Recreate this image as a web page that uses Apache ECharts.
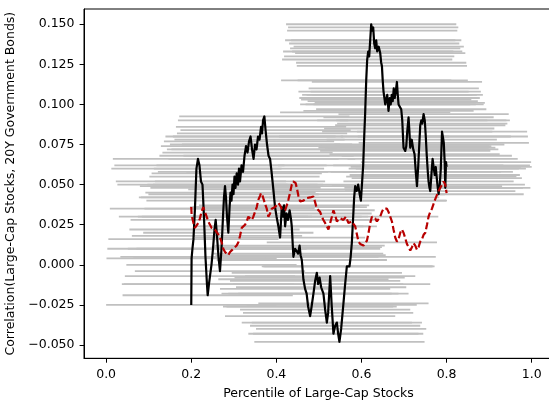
<!DOCTYPE html>
<html>
<head>
<meta charset="utf-8">
<script src="https://cdn.jsdelivr.net/npm/echarts@6/dist/echarts.min.js"></script>
<style>
  html, body { margin: 0; padding: 0; background: #fff; }
  #chart { width: 549px; height: 402px; }
</style>
</head>
<body>
<div id="chart"></div>
<script>
// Local correlation estimated at each percentile of large-cap stocks
const localX = [0.2000,0.2008,0.2028,0.2052,0.2087,0.2122,0.2158,0.2193,0.2228,0.2264,
  0.2299,0.2334,0.2369,0.2386,0.2416,0.2440,0.2475,0.2511,0.2546,0.2574,
  0.2605,0.2640,0.2675,0.2711,0.2746,0.2769,0.2793,0.2816,0.2840,0.2871,
  0.2899,0.2922,0.2946,0.2969,0.2993,0.3016,0.3040,0.3068,0.3099,0.3122,
  0.3146,0.3181,0.3216,0.3252,0.3287,0.3322,0.3358,0.3393,0.3428,0.3464,
  0.3499,0.3534,0.3569,0.3605,0.3640,0.3664,0.3687,0.3718,0.3746,0.3781,
  0.3816,0.3852,0.3887,0.3929,0.3969,0.4005,0.4047,0.4087,0.4127,0.4158,
  0.4181,0.4205,0.4240,0.4275,0.4311,0.4346,0.4362,0.4400,0.4440,0.4480,
  0.4511,0.4546,0.4569,0.4598,0.4635,0.4675,0.4711,0.4746,0.4793,0.4828,
  0.4871,0.4911,0.4951,0.4981,0.5016,0.5052,0.5106,0.5146,0.5186,0.5216,
  0.5264,0.5299,0.5341,0.5381,0.5421,0.5452,0.5482,0.5522,0.5576,0.5616,
  0.5656,0.5687,0.5718,0.5746,0.5774,0.5805,0.5828,0.5852,0.5887,0.5922,
  0.5958,0.5986,0.6009,0.6040,0.6064,0.6087,0.6111,0.6134,0.6158,0.6181,
  0.6205,0.6228,0.6252,0.6275,0.6299,0.6322,0.6346,0.6369,0.6405,0.6440,
  0.6463,0.6480,0.6499,0.6518,0.6539,0.6558,0.6581,0.6605,0.6635,0.6664,
  0.6687,0.6711,0.6734,0.6758,0.6781,0.6805,0.6833,0.6852,0.6871,0.6899,
  0.6934,0.6958,0.6988,0.7005,0.7028,0.7052,0.7075,0.7106,0.7122,0.7146,
  0.7181,0.7216,0.7247,0.7275,0.7304,0.7334,0.7358,0.7381,0.7405,0.7428,
  0.7459,0.7487,0.7511,0.7534,0.7558,0.7576,0.7598,0.7616,0.7640,0.7671,
  0.7699,0.7722,0.7746,0.7769,0.7793,0.7812,0.7840,0.7864,0.7892,0.7911,
  0.7934,0.7958,0.7969,0.7986,0.8000];
const localCorr = [-0.025,0.004,0.010,0.016,0.035,0.060,0.066,0.062,0.052,0.050,
  0.030,0.005,-0.012,-0.019,-0.012,-0.007,0.000,0.010,0.022,0.028,
  0.018,0.005,-0.004,0.010,0.030,0.042,0.049,0.042,0.030,0.020,
  0.035,0.045,0.040,0.050,0.044,0.055,0.048,0.057,0.050,0.060,
  0.052,0.062,0.058,0.068,0.074,0.070,0.077,0.080,0.072,0.066,
  0.075,0.072,0.080,0.078,0.086,0.082,0.090,0.0925,0.084,0.075,
  0.068,0.066,0.058,0.047,0.036,0.030,0.024,0.017,0.036,0.030,
  0.037,0.024,0.032,0.028,0.034,0.028,0.024,0.005,0.010,0.011,
  0.007,0.012,0.006,0.003,-0.009,-0.015,-0.018,-0.026,-0.032,-0.026,
  -0.018,-0.010,-0.005,-0.012,-0.008,-0.014,-0.018,-0.028,-0.036,-0.030,
  -0.007,-0.025,-0.043,-0.038,-0.036,-0.043,-0.048,-0.040,-0.024,-0.012,
  -0.001,-0.001,-0.001,0.005,0.014,0.030,0.042,0.049,0.046,0.050,
  0.044,0.040,0.040,0.062,0.080,0.095,0.115,0.128,0.133,0.130,
  0.140,0.150,0.146,0.148,0.138,0.135,0.140,0.133,0.136,0.132,
  0.126,0.124,0.115,0.108,0.104,0.100,0.103,0.106,0.096,0.104,
  0.100,0.106,0.102,0.110,0.104,0.108,0.114,0.106,0.100,0.101,
  0.097,0.090,0.073,0.074,0.071,0.074,0.083,0.092,0.085,0.073,
  0.078,0.072,0.069,0.058,0.049,0.062,0.075,0.087,0.090,0.088,
  0.094,0.090,0.080,0.068,0.058,0.052,0.048,0.046,0.055,0.066,
  0.060,0.056,0.061,0.054,0.048,0.044,0.050,0.060,0.083,0.080,
  0.076,0.062,0.048,0.064,0.061];

// Smoothed correlation curve (dashed)
const smoothX = [0.2000,0.2009,0.2052,0.2087,0.2127,0.2165,0.2205,0.2240,0.2282,0.2322,
  0.2362,0.2400,0.2440,0.2480,0.2522,0.2558,0.2598,0.2635,0.2675,0.2715,
  0.2753,0.2793,0.2833,0.2871,0.2911,0.2951,0.2988,0.3028,0.3068,0.3106,
  0.3146,0.3186,0.3224,0.3264,0.3304,0.3341,0.3381,0.3421,0.3459,0.3499,
  0.3539,0.3576,0.3616,0.3640,0.3675,0.3711,0.3746,0.3774,0.3812,0.3852,
  0.3892,0.3929,0.3969,0.4009,0.4047,0.4087,0.4127,0.4165,0.4205,0.4245,
  0.4282,0.4322,0.4362,0.4393,0.4423,0.4452,0.4480,0.4518,0.4558,0.4598,
  0.4635,0.4675,0.4715,0.4753,0.4793,0.4833,0.4871,0.4911,0.4951,0.4988,
  0.5028,0.5068,0.5106,0.5146,0.5186,0.5223,0.5264,0.5304,0.5341,0.5381,
  0.5421,0.5459,0.5499,0.5539,0.5576,0.5633,0.5694,0.5734,0.5774,0.5812,
  0.5852,0.5892,0.5929,0.5969,0.6009,0.6047,0.6087,0.6127,0.6165,0.6205,
  0.6245,0.6282,0.6322,0.6362,0.6400,0.6440,0.6480,0.6518,0.6558,0.6598,
  0.6635,0.6675,0.6715,0.6753,0.6793,0.6833,0.6871,0.6911,0.6951,0.6988,
  0.7028,0.7068,0.7106,0.7146,0.7186,0.7224,0.7264,0.7304,0.7341,0.7381,
  0.7421,0.7459,0.7499,0.7539,0.7576,0.7616,0.7656,0.7694,0.7734,0.7774,
  0.7812,0.7852,0.7892,0.7929,0.7969,0.8000];
const smoothCorr = [0.036,0.031,0.026,0.023,0.022,0.026,0.029,0.033,0.036,0.033,
  0.030,0.027,0.025,0.023,0.024,0.022,0.021,0.019,0.017,0.014,
  0.010,0.008,0.007,0.006,0.008,0.009,0.010,0.011,0.012,0.014,
  0.018,0.023,0.024,0.025,0.027,0.030,0.029,0.028,0.030,0.031,
  0.036,0.0405,0.043,0.0447,0.043,0.040,0.037,0.035,0.030,0.032,
  0.035,0.035,0.036,0.037,0.0385,0.037,0.035,0.034,0.034,0.037,
  0.0405,0.045,0.050,0.052,0.053,0.051,0.048,0.043,0.0395,0.039,
  0.040,0.041,0.0416,0.041,0.042,0.041,0.0426,0.039,0.035,0.0343,
  0.033,0.030,0.028,0.026,0.024,0.022,0.026,0.030,0.034,0.031,
  0.027,0.028,0.029,0.028,0.028,0.030,0.026,0.027,0.027,0.026,
  0.024,0.019,0.0145,0.013,0.0125,0.012,0.011,0.015,0.0198,0.026,
  0.030,0.030,0.029,0.027,0.027,0.030,0.033,0.035,0.036,0.035,
  0.033,0.030,0.027,0.022,0.017,0.0145,0.016,0.020,0.022,0.020,
  0.0166,0.013,0.011,0.009,0.011,0.0135,0.012,0.0094,0.011,0.0145,
  0.016,0.0187,0.020,0.025,0.030,0.033,0.035,0.038,0.041,0.0436,
  0.046,0.048,0.050,0.052,0.050,0.0447];

// Half-width of the percentile window behind each local estimate
const windowHalfWidth = 0.2;

const xTicks = [0.0, 0.2, 0.4, 0.6, 0.8, 1.0];
const yTicks = [-0.050, -0.025, 0.000, 0.025, 0.050, 0.075, 0.100, 0.125, 0.150];

const xTitle = 'Percentile of Large-Cap Stocks';
const yTitle = 'Correlation(Large-Cap Stocks, 20Y Government Bonds)';

const FONT = 'DejaVu Sans';
const pairs = (xs, ys) => xs.map((x, i) => [x, ys[i]]);
const fmtY = v => (v < 0 ? '\u2212' : '') + Math.abs(v).toFixed(3);

const chart = echarts.init(document.getElementById('chart'), null, { renderer: 'canvas' });
chart.setOption({
  animation: false,
  backgroundColor: '#fff',
  grid: {
    left: 84, top: 9, width: 469, height: 349.3,
    outerBoundsMode: 'none', containLabel: false,
    show: true, borderColor: '#000', borderWidth: 1, backgroundColor: 'transparent'
  },
  xAxis: {
    type: 'value', min: -0.052, max: 1.05,
    name: xTitle, nameLocation: 'middle', nameGap: 28.5,
    nameTextStyle: { fontFamily: FONT, fontSize: 12.5, color: '#000' },
    axisLine: { show: true, onZero: false, lineStyle: { color: '#000', width: 1 } },
    axisTick: { show: true, length: 4.4, customValues: xTicks, lineStyle: { color: '#000', width: 1 } },
    axisLabel: { customValues: xTicks, margin: 10, fontFamily: FONT, fontSize: 12.5, color: '#000',
      formatter: v => v.toFixed(1) },
    splitLine: { show: false }
  },
  yAxis: {
    type: 'value', min: -0.0583, max: 0.1595,
    name: yTitle, nameLocation: 'middle', nameGap: 64, nameRotate: 90,
    nameTextStyle: { fontFamily: FONT, fontSize: 12.5, color: '#000' },
    axisLine: { show: true, onZero: false, lineStyle: { color: '#000', width: 1 } },
    axisTick: { show: true, length: 4.4, customValues: yTicks, lineStyle: { color: '#000', width: 1 } },
    axisLabel: { customValues: yTicks, margin: 9.5, fontFamily: FONT, fontSize: 12.5, color: '#000',
      formatter: fmtY },
    splitLine: { show: false }
  },
  series: [
    {
      // percentile window covered by each local estimate
      type: 'custom',
      z: 1,
      silent: true,
      data: pairs(localX, localCorr),
      renderItem: (params, api) => {
        const x = api.value(0), y = api.value(1);
        const a = api.coord([x - windowHalfWidth, y]);
        const b = api.coord([x + windowHalfWidth, y]);
        return {
          type: 'line',
          shape: { x1: a[0], y1: a[1], x2: b[0], y2: b[1] },
          style: { stroke: '#c0c0c0', lineWidth: 1.8 }
        };
      }
    },
    {
      type: 'line',
      z: 2,
      data: pairs(localX, localCorr),
      symbol: 'none',
      lineStyle: { color: '#000', width: 2.2, join: 'round' }
    },
    {
      type: 'line',
      z: 3,
      data: pairs(smoothX, smoothCorr),
      symbol: 'none',
      lineStyle: { color: '#b80000', width: 2.2, type: [7, 3] }
    }
  ]
});
</script>
</body>
</html>
